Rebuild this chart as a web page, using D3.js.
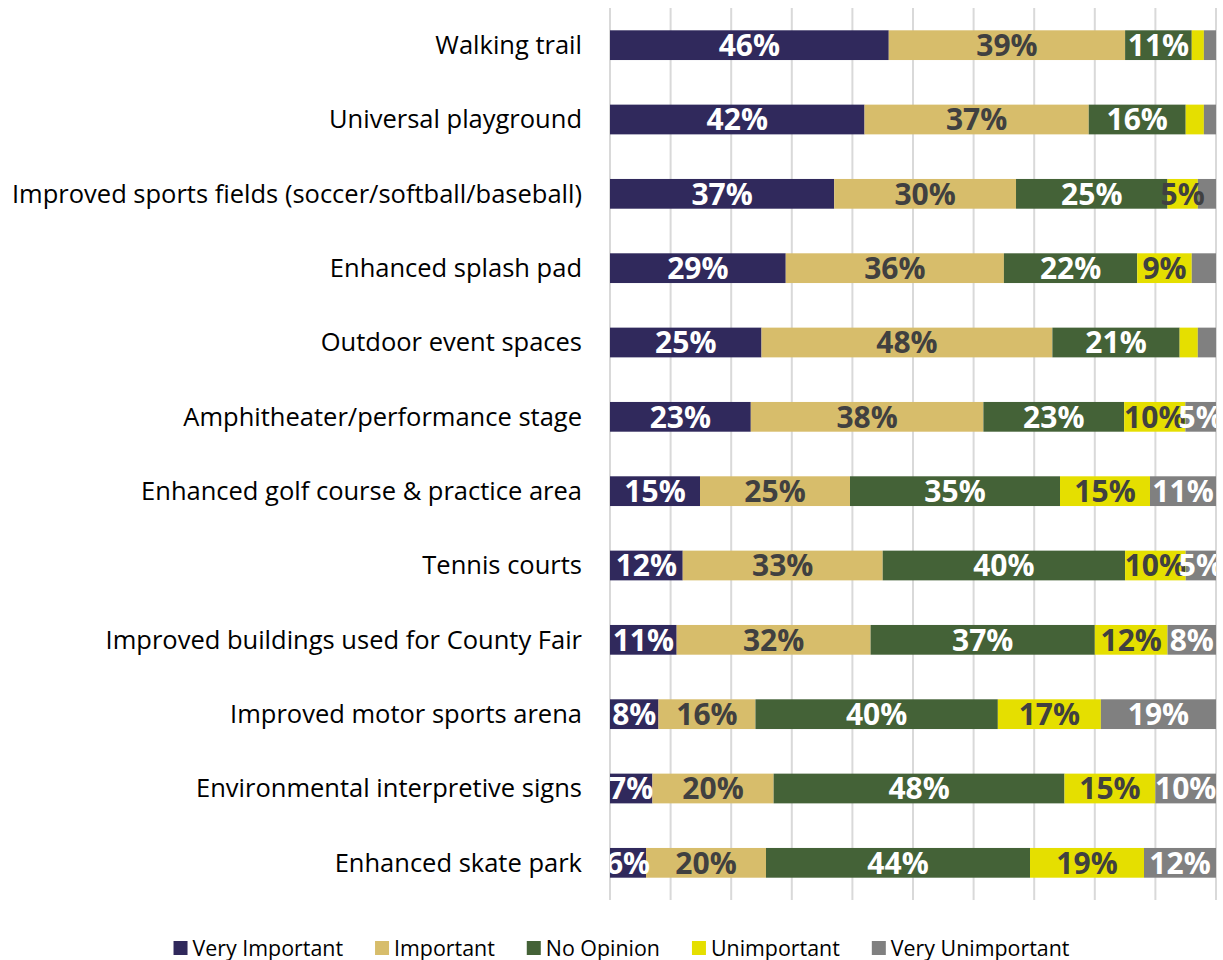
<!DOCTYPE html>
<html lang="en">
<head>
    <meta charset="UTF-8">
    <title>Park Amenity Importance</title>
    <script src="https://d3js.org/d3.v7.min.js"></script>
    <style>
        body { margin: 0; background: #fff; }
        .cat-label {
            font: 25.5px "Open Sans", sans-serif;
            fill: #000;
            text-anchor: end;
        }
        .value-label {
            font: bold 30px "Open Sans", sans-serif;
            text-anchor: middle;
        }
        .legend text {
            font: 21.4px "Open Sans", sans-serif;
            fill: #000;
        }
        .grid line {
            stroke: #d9d9d9;
            stroke-width: 2px;
        }
    </style>
</head>
<body>
<svg width="1223" height="960"></svg>
<script>
    const categories = [
        "Walking trail",
        "Universal playground",
        "Improved sports fields (soccer/softball/baseball)",
        "Enhanced splash pad",
        "Outdoor event spaces",
        "Amphitheater/performance stage",
        "Enhanced golf course & practice area",
        "Tennis courts",
        "Improved buildings used for County Fair",
        "Improved motor sports arena",
        "Environmental interpretive signs",
        "Enhanced skate park"
    ];
    const seriesNames = ["Very Important", "Important", "No Opinion", "Unimportant", "Very Unimportant"];
    const veryImportant   = [46, 42, 37, 29, 25, 23, 15, 12, 11,  8,  7,  6];
    const important       = [39, 37, 30, 36, 48, 38, 25, 33, 32, 16, 20, 20];
    const noOpinion       = [11, 16, 25, 22, 21, 23, 35, 40, 37, 40, 48, 44];
    const unimportant     = [ 2,  3,  5,  9,  3, 10, 15, 10, 12, 17, 15, 19];
    const veryUnimportant = [ 2,  2,  3,  4,  3,  5, 11,  5,  8, 19, 10, 12];
    const gridTicks = [0, 0.1, 0.2, 0.3, 0.4, 0.5, 0.6, 0.7, 0.8, 0.9, 1];

    const colors = ["#30295c", "#d7bd6b", "#446237", "#e5df00", "#808080"];
    const labelColors = ["#ffffff", "#404040", "#ffffff", "#404040", "#ffffff"];

    const width = 1223, height = 960;
    const margin = {left: 610, right: 7, top: 8, bottom: 60};

    const svg = d3.select("svg");

    // one row per category, keyed by series name
    const seriesValues = [veryImportant, important, noOpinion, unimportant, veryUnimportant];
    const rows = categories.map((c, i) => {
        const r = {category: c};
        seriesNames.forEach((s, j) => r[s] = seriesValues[j][i]);
        return r;
    });

    const stack = d3.stack()
        .keys(seriesNames)
        .offset(d3.stackOffsetExpand);
    const stacked = stack(rows);

    const x = d3.scaleLinear()
        .domain([0, 1])
        .range([margin.left, width - margin.right]);

    const y = d3.scaleBand()
        .domain(categories)
        .range([margin.top, height - margin.bottom])
        .paddingInner(0.6)
        .paddingOuter(0.3);

    const color = d3.scaleOrdinal().domain(seriesNames).range(colors);
    const labelColor = d3.scaleOrdinal().domain(seriesNames).range(labelColors);

    // vertical gridlines
    svg.append("g")
        .attr("class", "grid")
        .selectAll("line")
        .data(gridTicks)
        .enter().append("line")
        .attr("x1", d => x(d))
        .attr("x2", d => x(d))
        .attr("y1", margin.top)
        .attr("y2", height - margin.bottom);

    svg.append("clipPath")
        .attr("id", "plot-clip")
        .append("rect")
        .attr("x", x(0))
        .attr("y", 0)
        .attr("width", x(1) - x(0))
        .attr("height", height);

    const layer = svg.append("g")
        .selectAll("g")
        .data(stacked)
        .enter().append("g")
        .attr("fill", d => color(d.key));

    layer.selectAll("rect")
        .data(d => d)
        .enter().append("rect")
        .attr("x", d => x(d[0]))
        .attr("y", d => y(d.data.category))
        .attr("width", d => x(d[1]) - x(d[0]))
        .attr("height", y.bandwidth());

    // value labels (only for segments of 5% or more)
    const labels = svg.append("g").attr("clip-path", "url(#plot-clip)");
    stacked.forEach(s => {
        labels.selectAll(null)
            .data(s.filter(d => d.data[s.key] >= 5))
            .enter().append("text")
            .attr("class", "value-label")
            .attr("x", d => (x(d[0]) + x(d[1])) / 2)
            .attr("y", d => y(d.data.category) + y.bandwidth() / 2)
            .attr("dy", "0.36em")
            .attr("fill", labelColor(s.key))
            .text(d => d.data[s.key] + "%");
    });

    // category labels
    svg.append("g")
        .selectAll("text")
        .data(categories)
        .enter().append("text")
        .attr("class", "cat-label")
        .attr("x", margin.left - 28)
        .attr("y", d => y(d) + y.bandwidth() / 2)
        .attr("dy", "0.35em")
        .text(d => d);

    // legend
    const legend = svg.append("g").attr("class", "legend");
    const items = legend.selectAll("g")
        .data(seriesNames)
        .enter().append("g");
    items.append("rect")
        .attr("width", 14)
        .attr("height", 14)
        .attr("y", -7)
        .attr("fill", d => color(d));
    items.append("text")
        .attr("x", 19)
        .attr("dy", "0.35em")
        .text(d => d);

    let offset = 0;
    const gap = 32;
    const offsets = [];
    items.each(function () {
        offsets.push(offset);
        offset += 19 + this.querySelector("text").getComputedTextLength() + gap;
    });
    const totalW = offset - gap;
    const startX = (width - totalW) / 2 + 10;
    items.attr("transform", (d, i) => `translate(${startX + offsets[i]}, 948)`);
</script>
</body>
</html>
